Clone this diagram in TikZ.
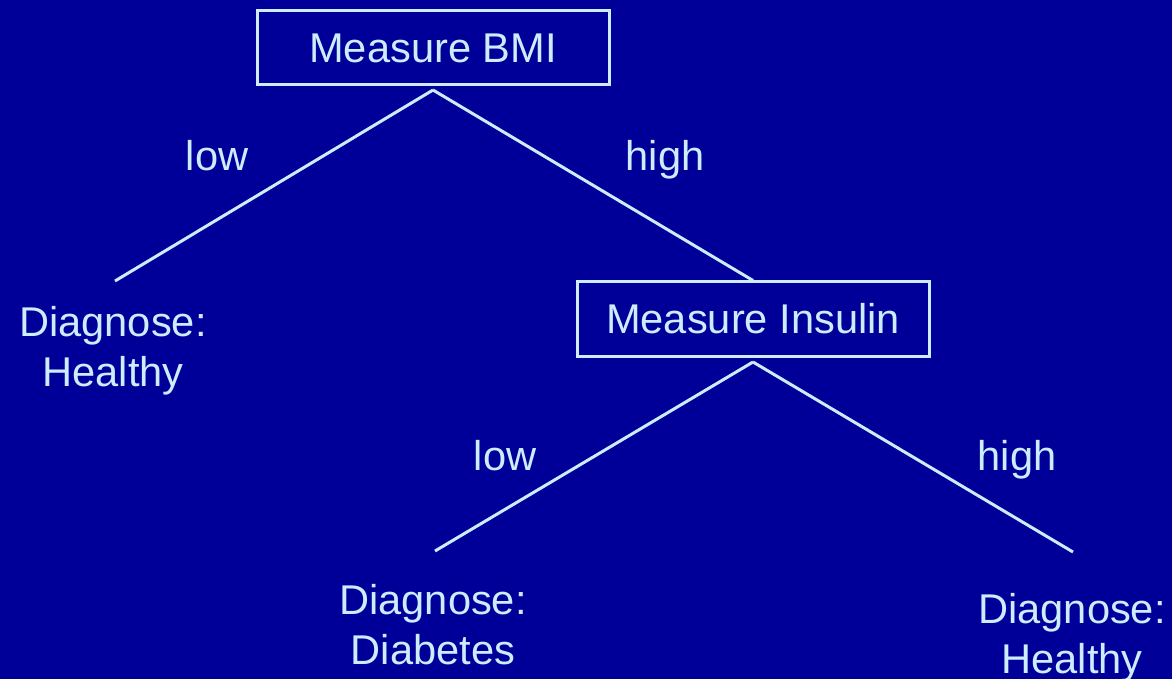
\documentclass[tikz,border=0pt]{standalone}
\usepackage{fontspec}
\setmainfont{Liberation Sans}

\definecolor{slidebg}{RGB}{0,0,153}
\definecolor{chalk}{RGB}{204,236,255}

\begin{document}
\begin{tikzpicture}[x=0.5pt, y=-0.5pt, line width=1.5pt, draw=chalk,
    every node/.style={font=\fontsize{20.8}{25}\selectfont, text=chalk, inner sep=0pt},
    test/.style={draw=chalk, minimum width=176pt, minimum height=37pt},
    leaf/.style={anchor=north, align=center},
    branch/.style={anchor=base}]
    \fill[slidebg] (0,0) rectangle (1172,679);
    \useasboundingbox (0,0) rectangle (1172,679);

    \node[test] (bmi) at (433, 48) {Measure BMI};
    \node[test] (insulin) at (753, 319) {Measure Insulin};

    \coordinate (bmi-fork) at (433, 90);
    \coordinate (insulin-fork) at (753, 362);
    \coordinate (healthy-a-top) at (115, 281);
    \coordinate (diabetes-top) at (435, 551);
    \coordinate (healthy-b-top) at (1073, 552);

    \draw (bmi-fork) -- (healthy-a-top);
    \draw (bmi-fork) -- (insulin.north);
    \draw (insulin-fork) -- (diabetes-top);
    \draw (insulin-fork) -- (healthy-b-top);

    \node[branch] (bmi-low) at (217, 171) {low};
    \node[branch] (bmi-high) at (665, 171) {high};
    \node[branch] (insulin-low) at (505, 470) {low};
    \node[branch] (insulin-high) at (1017, 470) {high};

    \node[leaf] (healthy-a) at (113, 305) {Diagnose:\\Healthy};
    \node[leaf] (diabetes) at (433, 583) {Diagnose:\\Diabetes};
    \node[leaf] (healthy-b) at (1072, 592) {Diagnose:\\Healthy};
\end{tikzpicture}
\end{document}
